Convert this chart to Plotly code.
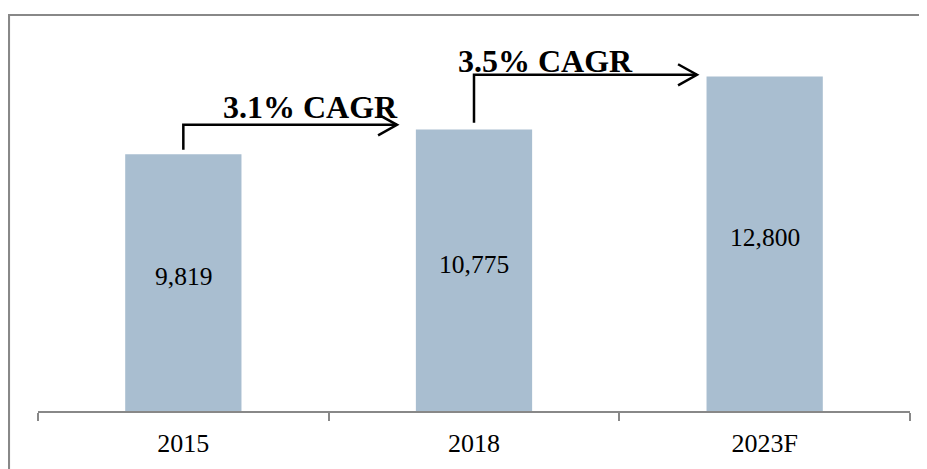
import plotly.graph_objects as go

# ---- data ----
categories = ["2015", "2018", "2023F"]
values = [9819, 10775, 12800]
value_labels = ["9,819", "10,775", "12,800"]
cagr_labels = ["3.1% CAGR", "3.5% CAGR"]
cagr_from = [0, 1]          # index of bar where each CAGR arrow starts

BAR_COLOR = "#A9BED0"
GREY = "#888888"
SERIF = "Liberation Serif, Times New Roman, serif"

pos = list(range(len(categories)))
bounds = [p - 0.5 for p in pos] + [pos[-1] + 0.5]

fig = go.Figure()
fig.add_trace(go.Bar(
    x=pos, y=values,
    marker=dict(color=BAR_COLOR, line=dict(width=0)),
    hoverinfo="skip",
))
# invisible trace on overlay axis to carry category labels
fig.add_trace(go.Scatter(x=pos, y=values, xaxis="x2", mode="markers",
                         marker=dict(opacity=0), hoverinfo="skip"))

# value labels inside bars (slightly above the middle)
for p, v, lab in zip(pos, values, value_labels):
    fig.add_annotation(x=p, y=v / 2, text=lab, showarrow=False,
                       xref="x", yref="y", yanchor="middle", yshift=6,
                       font=dict(family=SERIF, size=25.5, color="black"))

# CAGR arrows (elbow with open chevron head)
ymax = 14960
start_gap = [173, 251]
level_y = [10950, 12864]
end_x = [0.735, 1.767]
head_dx = 0.065
head_dy = 402
text_x = [0.439, 1.246]
text_y = [11620, 13380]

for k, i in enumerate(cagr_from):
    x0 = pos[i]
    y0 = values[i] + start_gap[k]
    y1 = level_y[k]
    x1 = end_x[k]
    path = f"M {x0},{y0} L {x0},{y1} L {x1},{y1}"
    fig.add_shape(type="path", path=path, xref="x", yref="y",
                  line=dict(color="black", width=2.5))
    head = f"M {x1 - head_dx},{y1 + head_dy} L {x1},{y1} L {x1 - head_dx},{y1 - head_dy}"
    fig.add_shape(type="path", path=head, xref="x", yref="y",
                  line=dict(color="black", width=2.5))
    fig.add_annotation(x=text_x[k], y=text_y[k], text=f"<b>{cagr_labels[k]}</b>",
                       showarrow=False, xref="x", yref="y", yanchor="middle",
                       font=dict(family=SERIF, size=32, color="black"))

# outer border frame (only top and left edges are visible in the picture)
fig.add_shape(type="path", xref="paper", yref="paper",
              path="M -0.0333,-0.3 L -0.0333,1.0128 L 1.2,1.0128",
              line=dict(color=GREY, width=2.2), layer="below")

xr = [bounds[0], bounds[-1]]
fig.update_layout(
    width=919, height=461,
    margin=dict(l=30, r=17, t=12, b=58),
    paper_bgcolor="white", plot_bgcolor="white",
    showlegend=False,
    bargap=0.6,
    xaxis=dict(
        range=xr,
        showline=True, linecolor=GREY, linewidth=1.5,
        tickmode="array", tickvals=bounds, showticklabels=False,
        ticks="outside", ticklen=8, tickwidth=1.5, tickcolor=GREY,
        showgrid=False, zeroline=False,
    ),
    xaxis2=dict(
        range=xr, overlaying="x", side="bottom", anchor="y",
        tickmode="array", tickvals=pos, ticktext=categories,
        ticks="", showline=False, showgrid=False, zeroline=False,
        tickfont=dict(family=SERIF, size=26, color="black"),
        ticklabelstandoff=14,
    ),
    yaxis=dict(
        range=[0, ymax], visible=False, showgrid=False, zeroline=False,
    ),
)

fig.write_html("out.html")
